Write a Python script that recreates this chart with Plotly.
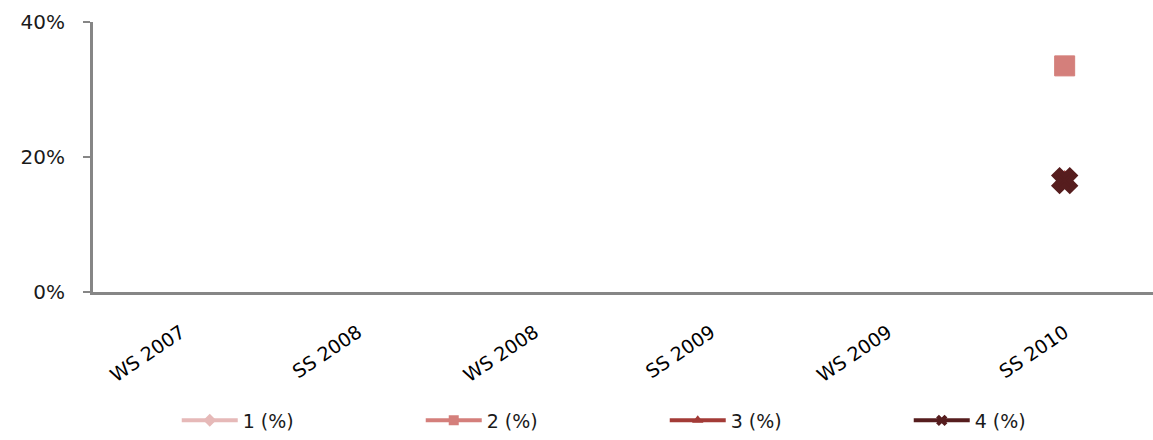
import plotly.graph_objects as go

categories = ["WS 2007", "SS 2008", "WS 2008", "SS 2009", "WS 2009", "SS 2010"]
series_names = ["1 (%)", "2 (%)", "3 (%)", "4 (%)"]
s1 = [None, None, None, None, None, None]
s2 = [None, None, None, None, None, 33.5]
s3 = [None, None, None, None, None, 16.5]
s4 = [None, None, None, None, None, 16.5]
y_ticks = [0, 20, 40]
y_tick_labels = ["0%", "20%", "40%"]

colors = ["#E6B9B8", "#D47F7B", "#A33B37", "#561D1E"]
symbols = ["diamond", "square", "triangle-up", "x"]
series = [s1, s2, s3, s4]

fig = go.Figure()
for name, vals, col, sym in zip(series_names, series, colors, symbols):
    fig.add_trace(go.Scatter(
        x=categories, y=vals, mode="lines+markers", name=name,
        line=dict(color=col, width=4),
        marker=dict(symbol=sym, size=18 if sym == "x" else 20, color=col,
                    line=dict(color=col, width=5 if sym == "x" else 1)),
        showlegend=False,
    ))
for name, col, sym in zip(series_names, colors, symbols):
    fig.add_trace(go.Scatter(
        x=[None], y=[None], mode="lines+markers", name=name,
        line=dict(color=col, width=4),
        marker=dict(symbol=sym, size=10, color=col),
        showlegend=True,
    ))

fig.update_layout(
    width=1153, height=440,
    margin=dict(l=93, r=0, t=22, b=145),
    paper_bgcolor="white", plot_bgcolor="white",
    font=dict(family="DejaVu Sans", size=19, color="#1a1a1a"),
    showlegend=True,
    legend=dict(
        orientation="h", x=0.079, xanchor="left", y=-0.476, yanchor="middle",
        itemwidth=56, entrywidth=173, entrywidthmode="pixels",
        font=dict(family="DejaVu Sans", size=19, color="#1a1a1a"),
        bgcolor="rgba(0,0,0,0)",
    ),
    xaxis=dict(
        type="category", categoryorder="array", categoryarray=categories,
        range=[-0.5, 5.5], showgrid=False, zeroline=False,
        showline=True, linecolor="#868686", linewidth=3,
        ticks="", tickangle=-34, ticklabelstandoff=19,
        tickfont=dict(family="DejaVu Sans", size=19, color="#000000"),
        automargin=False,
    ),
    yaxis=dict(
        range=[0, 40], tickvals=y_ticks, ticktext=y_tick_labels,
        showgrid=False, zeroline=False,
        showline=True, linecolor="#868686", linewidth=3,
        ticks="outside", ticklen=7, tickwidth=2, tickcolor="#868686",
        ticklabelstandoff=14,
        tickfont=dict(family="DejaVu Sans", size=20, color="#1a1a1a"),
        automargin=False,
    ),
)

fig.write_html(
    "out.html",
    config={"displayModeBar": False},
    post_script="document.body.style.margin='0';document.documentElement.style.overflow='hidden';",
)
